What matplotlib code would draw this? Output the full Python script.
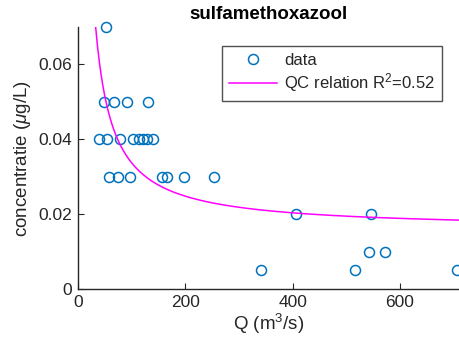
import numpy as np
import matplotlib
matplotlib.use("Agg")
import matplotlib.pyplot as plt

plt.rcParams['font.family'] = ['Liberation Sans', 'DejaVu Sans']
plt.rcParams['mathtext.fontset'] = 'custom'
plt.rcParams['mathtext.rm'] = 'Liberation Sans'
plt.rcParams['mathtext.it'] = 'Liberation Sans:italic'

# data
Q = [51.6, 49, 67.7, 90.7, 131,
     39, 53.5, 78, 102, 113.7, 121.8, 128.6, 139.3,
     57.8, 74.6, 96.3, 156, 165, 197.6, 254,
     405.7, 545.6,
     542.5, 572,
     340.5, 517, 707]
C = [0.07, 0.05, 0.05, 0.05, 0.05,
     0.04, 0.04, 0.04, 0.04, 0.04, 0.04, 0.04, 0.04,
     0.03, 0.03, 0.03, 0.03, 0.03, 0.03, 0.03,
     0.02, 0.02,
     0.01, 0.01,
     0.005, 0.005, 0.005]

# QC relation  c = a + b / Q  (coefficients)
qc_a = 0.0159
qc_b = 1.78
qc_qmin, qc_qmax = 33, 715

xticks = [0, 200, 400, 600]
yticks = [0, 0.02, 0.04, 0.06]

fig = plt.figure(figsize=(4.6, 3.56), dpi=100)
ax = fig.add_axes([78/460, 1 - 289/356, 1 - 78/460, (289 - 27)/356])

txt = '#262626'
pts, = ax.plot(Q, C, 'o', mfc='none', mec='#0072BD', ms=7.2, mew=1.1, label='data')
qq = np.linspace(qc_qmin, qc_qmax, 400)
ax.plot(qq, qc_a + qc_b / qq, color='#FF00FF', lw=1.1, label='QC relation R$^2$=0.52')

ax.set_xlim(0, 712)
ax.set_ylim(0, 0.07)
pts.set_clip_on(False)
ax.set_xticks(xticks)
ax.set_xticklabels([str(t) for t in xticks])
ax.set_yticks(yticks)
ax.set_yticklabels(['0', '0.02', '0.04', '0.06'])
ax.tick_params(direction='in', length=4, width=0.8, colors=txt, labelsize=12.5, pad=4)
for s in ['top', 'right']:
    ax.spines[s].set_visible(False)
for s in ['left', 'bottom']:
    ax.spines[s].set_color(txt)
    ax.spines[s].set_linewidth(1.0)

ax.set_xlabel('Q (m$^3$/s)', fontsize=13.5, color=txt, labelpad=2)
ax.set_ylabel('concentratie ($\\mathit{\\mu}$g/L)', fontsize=13.5, color=txt, labelpad=4)
ax.set_title('sulfamethoxazool', fontsize=13.5, fontweight='bold', color='black', pad=6)

leg = ax.legend(loc='upper left', bbox_to_anchor=((222-78)/382, (289-46)/262),
                fontsize=12, frameon=True, fancybox=False, edgecolor=txt,
                borderpad=0.4, handlelength=2.9, handletextpad=0.45, labelspacing=0.22,
                borderaxespad=0)
leg.get_frame().set_linewidth(1.0)
for t in leg.get_texts():
    t.set_color(txt)

fig.savefig('out.png', dpi=100)
